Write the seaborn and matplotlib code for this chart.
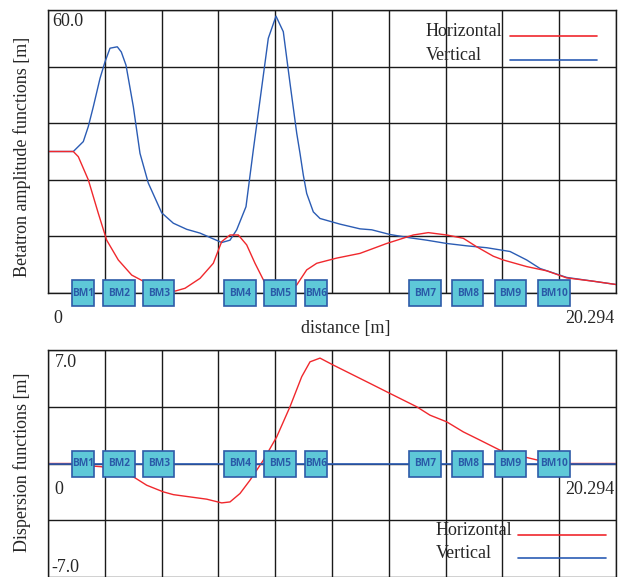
import numpy as np
import pandas as pd
import matplotlib
matplotlib.use("Agg")
import matplotlib.pyplot as plt
from matplotlib.patches import Rectangle
from matplotlib.lines import Line2D
import seaborn as sns

# ---------------- data ----------------
L_TOTAL = 20.294

# Betatron functions (top panel)
beta_h_s = [0.0, 0.904, 1.083, 1.440, 1.797, 2.097, 2.512, 2.991, 3.405, 4.002, 4.538,
            4.895, 5.431, 5.906, 6.206, 6.503, 6.799, 7.099, 7.396, 7.753, 8.289, 8.886,
            9.243, 9.601, 10.315, 11.147, 12.101, 13.052, 13.588, 14.245, 14.838, 15.317,
            15.910, 16.267, 17.103, 17.818, 18.533, 19.483, 20.294]
beta_h = [30.0, 30.0, 28.9, 24.0, 16.9, 11.2, 7.0, 3.8, 2.5, 1.2, 0.4,
          1.0, 3.1, 6.3, 10.9, 12.3, 12.3, 10.2, 6.3, 2.1, 0.5, 1.7,
          4.9, 6.3, 7.4, 8.4, 10.5, 12.3, 12.8, 12.3, 11.6, 9.8,
          7.8, 7.0, 5.6, 4.7, 3.2, 2.5, 1.8]

beta_v_s = [0.0, 0.904, 1.261, 1.440, 1.619, 1.858, 2.036, 2.215, 2.476, 2.619, 2.787,
            3.049, 3.287, 3.584, 4.062, 4.477, 4.956, 5.431, 6.206, 6.503, 6.742, 7.074,
            7.335, 7.575, 7.871, 8.146, 8.407, 8.646, 8.886, 9.004, 9.122, 9.243, 9.479,
            9.718, 10.433, 11.147, 11.566, 12.219, 12.934, 13.530, 14.245, 14.960, 15.674,
            16.507, 17.103, 17.579, 18.533, 19.483, 20.294]
beta_v = [30.0, 30.0, 32.1, 35.3, 39.5, 45.5, 49.0, 51.9, 52.2, 51.1, 48.3,
          39.5, 29.6, 23.3, 17.0, 14.8, 13.5, 12.7, 10.7, 11.2, 13.4, 18.3,
          30.3, 40.9, 54.0, 58.7, 55.4, 44.5, 33.9, 29.6, 25.0, 21.1, 17.2,
          15.8, 14.6, 13.6, 13.4, 12.4, 11.7, 11.2, 10.5, 10.0, 9.6,
          8.8, 7.0, 5.2, 3.3, 2.5, 1.8]

# Dispersion functions (bottom panel)
disp_h_s = [0.0, 0.857, 1.679, 1.919, 3.048, 3.526, 4.120, 4.477, 5.074, 5.670, 6.206,
            6.503, 6.860, 7.217, 7.693, 8.171, 8.646, 9.064, 9.361, 9.718, 10.194,
            11.505, 12.219, 13.173, 13.649, 14.245, 14.838, 15.435, 16.150, 17.103,
            17.518, 18.293, 20.294]
disp_h = [0.0, 0.0, -0.17, -0.20, -0.82, -1.34, -1.75, -1.92, -2.06, -2.20, -2.43,
          -2.37, -1.85, -1.03, 0.20, 1.64, 3.50, 5.35, 6.27, 6.50, 6.07,
          4.94, 4.32, 3.50, 2.98, 2.57, 1.95, 1.44, 0.82, 0.37,
          0.20, 0.0, 0.0]
disp_v_s = [0.0, 20.294]
disp_v = [0.0, 0.0]

# Bending magnets
bm_names = ["BM1", "BM2", "BM3", "BM4", "BM5", "BM6", "BM7", "BM8", "BM9", "BM10"]
bm_start = [0.868, 1.976, 3.405, 6.299, 7.728, 9.172, 12.909, 14.434, 15.960, 17.518]
bm_end = [1.644, 3.098, 4.513, 7.432, 8.861, 9.958, 14.031, 15.553, 17.078, 18.640]

legend_labels = ["Horizontal", "Vertical"]

# ---------------- style ----------------
RED = "#f0282d"
BLUE = "#2b5cb4"
BOX_FILL = "#5ec8d8"
BOX_EDGE = "#2d5ba8"
BM_TEXT = "#2a5aa8"

sns.set_style("white")
plt.rcParams["font.family"] = ["Liberation Serif", "DejaVu Serif"]
FS = 13

W, H = 623, 577
fig = plt.figure(figsize=(W / 100, H / 100), dpi=100)
ax1 = fig.add_axes([48 / W, 1 - 293 / H, 568 / W, 283 / H])
ax2 = fig.add_axes([48 / W, 0.0, 568 / W, 227 / H])

df_bh = pd.DataFrame({"s": beta_h_s, "v": beta_h})
df_bv = pd.DataFrame({"s": beta_v_s, "v": beta_v})
df_dh = pd.DataFrame({"s": disp_h_s, "v": disp_h})
df_dv = pd.DataFrame({"s": disp_v_s, "v": disp_v})

sns.lineplot(data=df_bv, x="s", y="v", ax=ax1, color=BLUE, lw=1.0, legend=False, zorder=2)
sns.lineplot(data=df_bh, x="s", y="v", ax=ax1, color=RED, lw=1.0, legend=False, zorder=2.5)
sns.lineplot(data=df_dh, x="s", y="v", ax=ax2, color=RED, lw=1.0, legend=False, zorder=2)
sns.lineplot(data=df_dv, x="s", y="v", ax=ax2, color=BLUE, lw=1.2, legend=False, zorder=2.5)

ax1.set_xlim(0, L_TOTAL)
ax1.set_ylim(0, 60)
ax2.set_xlim(0, L_TOTAL)
ax2.set_ylim(-7, 7)

for ax, yt in ((ax1, np.arange(0, 61, 12)), (ax2, [-7, -3.5, 0, 3.5, 7])):
    ax.set_xticks(np.linspace(0, L_TOTAL, 11))
    ax.set_yticks(yt)
    ax.tick_params(length=0, labelbottom=False, labelleft=False)
    ax.grid(True, color="#1a1a1a", lw=1.0)
    ax.set_axisbelow(True)
    ax.set_xlabel("")
    ax.set_ylabel("")
    for sp in ax.spines.values():
        sp.set_color("#1a1a1a")
        sp.set_linewidth(1.0)
ax2.spines["bottom"].set_visible(False)

# magnets (26 px tall, centred on zero line)
for ax, half in ((ax1, 13 * 60 / 283), (ax2, 13 * 14 / 227)):
    for name, a, b in zip(bm_names, bm_start, bm_end):
        ax.add_patch(Rectangle((a, -half), b - a, 2 * half, facecolor=BOX_FILL,
                               edgecolor=BOX_EDGE, lw=1.2, zorder=4, clip_on=False))
        ax.text((a + b) / 2, 0, name, ha="center", va="center", color=BM_TEXT,
                fontsize=7.3, fontweight="bold", family=["Open Sans", "DejaVu Sans"],
                zorder=5, clip_on=False)

# value annotations
t1 = ax1.transAxes
ax1.text(0.007, 0.943, "60.0", transform=t1, fontsize=FS, va="baseline", ha="left")
ax1.text(0.0094, -0.105, "0", transform=t1, fontsize=FS, va="baseline", ha="left")
ax1.text(0.997, -0.107, "20.294", transform=t1, fontsize=FS, va="baseline", ha="right")
ax1.text(0.5235, -0.142, "distance [m]", transform=t1, fontsize=FS, va="baseline", ha="center")
ax1.text(-0.045, 0.48, "Betatron amplitude functions [m]", transform=t1, fontsize=FS,
         rotation=90, ha="center", va="center")

t2 = ax2.transAxes
ax2.text(0.0123, 0.926, "7.0", transform=t2, fontsize=FS, va="baseline", ha="left")
ax2.text(0.0106, 0.366, "0", transform=t2, fontsize=FS, va="baseline", ha="left")
ax2.text(0.0065, 0.024, "-7.0", transform=t2, fontsize=FS, va="baseline", ha="left")
ax2.text(0.997, 0.366, "20.294", transform=t2, fontsize=FS, va="baseline", ha="right")
ax2.text(-0.045, 0.504, "Dispersion functions [m]", transform=t2, fontsize=FS,
         rotation=90, ha="center", va="center")

# legends (text followed by line sample)
def legend(ax, x_text, x0, x1, ys):
    for lab, col, y in zip(legend_labels, (RED, BLUE), ys):
        ax.text(x_text, y, lab, transform=ax.transAxes, fontsize=FS, va="baseline",
                ha="left", zorder=6)
        ax.add_line(Line2D([x0, x1], [y, y], transform=ax.transAxes, color=col,
                           lw=1.2, zorder=6, clip_on=False))

legend(ax1, 0.665, 0.813, 0.967, (0.909, 0.823))
legend(ax2, 0.683, 0.828, 0.982, (0.185, 0.0824))

fig.savefig("out.png", dpi=100)
